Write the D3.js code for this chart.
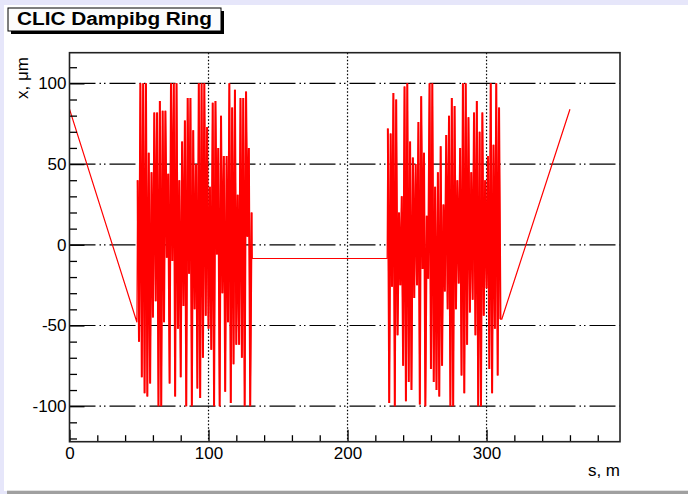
<!DOCTYPE html>
<html>
<head>
<meta charset="utf-8">
<script src="https://cdn.jsdelivr.net/npm/d3@7"></script>
<style>
  html, body { margin: 0; padding: 0; background: #e6e6fa; }
  svg { display: block; font-family: "Liberation Sans", Helvetica, Arial, sans-serif; }
</style>
</head>
<body>
<svg id="chart" width="688" height="494"></svg>
<script>
// orbit data
const leftRampS = [0, 48.5];
const leftRampX = [84, -48];

// first arc: peaks at odd s (49..131), troughs at even s (50..130)
const arc1Start = 49;
const arc1High = [40, 100, 100, 100, 57, 45, 82, 82, 89, 83, 83, 44, 100, 100, 100, 40, 64, 77, 91, 91,
  71, 50, 100, 100, 100, 73, 36, 88, 89, 60, 80, 55, 55, 100, 85, 96, 31, 91, 91, 95, 60, 20];
const arc1Low = [-60, -82, -92, -94, -86, -45, -35, -100, -100, -48, -8, -86, -10, -94, -52, -82, -38, -100, -18, -100,
  -40, -89, -95, -70, -44, -52, -65, -100, -6, -100, -30, -91, -48, -98, -74, -62, -62, -70, -100, 5, -100];

const flatS = [131.5, 228.5];
const flatX = [-8.5, -8.5];

// second arc: peaks at odd s (229..309), troughs at even s (230..310)
const arc2Start = 229;
const arc2High = [72, 69, 94, 90, 20, 30, 98, 100, 64, 54, 50, 76, 92, 57, 18, 100, 100, 36, 45, 61,
  25, 68, 80, 91, 86, 40, 60, 100, 100, 79, 45, 82, 89, 70, 82, 40, 55, 100, 62, 100, 85];
const arc2Low = [-98, -26, -100, -56, -25, -75, -97, -85, -90, -33, -25, -99, -15, -100, -21, -77, -85, -90, -94, -75,
  -29, -40, -100, -100, -40, -24, -81, -92, -62, -42, -34, -56, -100, -100, -44, -27, -77, -92, -52, -81, -46];

const rightRampS = [311, 360];
const rightRampX = [-46, 84];

const xMajorTicks = [0, 100, 200, 300];
const xMinorTicks = [20, 40, 60, 80, 120, 140, 160, 180, 220, 240, 260, 280, 320, 340, 360, 380];
const yMajorTicks = [-100, -50, 0, 50, 100];
const yMinorTicks = [-120, -110, -90, -80, -70, -60, -40, -30, -20, -10, 10, 20, 30, 40, 60, 70, 80, 90, 110];

const titleText = "CLIC Dampibg Ring";
const xTitle = "s, m";
const yTitle = "x, \u03bcm";

function arcPoints(start, highs, lows) {
    const pts = [];
    highs.forEach(function (h, i) {
        pts.push([start + 2 * i, h]);
        if (i < lows.length) pts.push([start + 2 * i + 1, lows[i]]);
    });
    return pts;
}

const arc1 = arcPoints(arc1Start, arc1High, arc1Low);
const arc2 = arcPoints(arc2Start, arc2High, arc2Low);
const points = [].concat(
    leftRampS.map((s, i) => [s, leftRampX[i]]),
    arc1,
    flatS.map((s, i) => [s, flatX[i]]),
    arc2,
    rightRampS.map((s, i) => [s, rightRampX[i]])
);

const svg = d3.select("#chart");
const plot = { left: 69.5, right: 620, top: 52.7, bottom: 441.7 };

// pad background
svg.append("rect").attr("x", 4).attr("y", 5).attr("width", 684).attr("height", 486).attr("fill", "#ffffff");
svg.append("rect").attr("x", 7).attr("y", 490.7).attr("width", 681).attr("height", 4).attr("fill", "#a0a0a0");

const x = d3.scaleLinear().domain([0, 396]).range([plot.left, plot.right]);
const y = d3.scaleLinear().domain([-122, 119]).range([plot.bottom, plot.top]);

// grid
svg.append("g").selectAll("line")
    .data(yMajorTicks)
    .enter().append("line")
    .attr("x1", plot.left).attr("x2", plot.right)
    .attr("y1", d => y(d)).attr("y2", d => y(d))
    .attr("stroke", "#000").attr("stroke-width", 1.2)
    .attr("stroke-dasharray", "26,4,1.5,3,1.5,4");

svg.append("g").selectAll("line")
    .data(xMajorTicks.filter(d => d > 0))
    .enter().append("line")
    .attr("y1", plot.top).attr("y2", plot.bottom)
    .attr("x1", d => x(d)).attr("x2", d => x(d))
    .attr("stroke", "#000").attr("stroke-width", 1.2)
    .attr("stroke-dasharray", "1.5,2");

// orbit line
svg.append("clipPath").attr("id", "clip")
    .append("rect")
    .attr("x", plot.left).attr("y", plot.top)
    .attr("width", plot.right - plot.left).attr("height", plot.bottom - plot.top);

const line = d3.line().x(d => x(d[0])).y(d => y(d[1]));
const orbit = svg.append("g").attr("clip-path", "url(#clip)");

orbit.append("path")
    .datum(points)
    .attr("fill", "none")
    .attr("stroke", "#ff0000")
    .attr("stroke-width", 1.2)
    .attr("d", line);

// the arcs are dense, they render as near solid strokes
[arc1, arc2].forEach(function (arc) {
    orbit.append("path")
        .datum(arc)
        .attr("fill", "none")
        .attr("stroke", "#ff0000")
        .attr("stroke-width", 2)
        .attr("stroke-miterlimit", 2)
        .attr("d", line);
});

// axes (ticks inside the frame)
const fmt = d => String(d);
const xAxis = svg.append("g").attr("transform", "translate(0," + plot.bottom + ")");
xAxis.append("g")
    .call(d3.axisBottom(x).tickValues(xMinorTicks).tickSize(-6.5).tickFormat(""));
xAxis.append("g")
    .call(d3.axisBottom(x).tickValues(xMajorTicks).tickSize(-12).tickPadding(5).tickFormat(fmt));

const yAxis = svg.append("g").attr("transform", "translate(" + plot.left + ",0)");
yAxis.append("g")
    .call(d3.axisLeft(y).tickValues(yMinorTicks).tickSize(-7.5).tickFormat(""));
yAxis.append("g")
    .call(d3.axisLeft(y).tickValues(yMajorTicks).tickSize(-15).tickPadding(3).tickFormat(fmt));

svg.selectAll(".domain").remove();
svg.selectAll(".tick line").attr("stroke", "#000").attr("stroke-width", 1.3);
svg.selectAll(".tick text")
    .attr("font-family", "Liberation Sans, Helvetica, Arial, sans-serif")
    .attr("font-size", 17)
    .attr("fill", "#000");

// frame
svg.append("rect")
    .attr("x", plot.left).attr("y", plot.top)
    .attr("width", plot.right - plot.left).attr("height", plot.bottom - plot.top)
    .attr("fill", "none").attr("stroke", "#222").attr("stroke-width", 1.6);

// axis titles
svg.append("text")
    .attr("x", plot.right).attr("y", 476)
    .attr("text-anchor", "end")
    .attr("font-size", 17)
    .text(xTitle);

svg.append("text")
    .attr("transform", "translate(28,57) rotate(-90)")
    .attr("text-anchor", "end")
    .attr("font-size", 17)
    .text(yTitle);

// title box with shadow
svg.append("rect").attr("x", 11).attr("y", 11).attr("width", 213).attr("height", 23).attr("fill", "#000");
svg.append("rect").attr("x", 8).attr("y", 8).attr("width", 213).attr("height", 23)
    .attr("fill", "#fcfcfc").attr("stroke", "#000").attr("stroke-width", 1);
svg.append("text")
    .attr("x", 17).attr("y", 25)
    .attr("font-size", 18).attr("font-weight", "bold")
    .attr("textLength", 195).attr("lengthAdjust", "spacingAndGlyphs")
    .text(titleText);
</script>
</body>
</html>
